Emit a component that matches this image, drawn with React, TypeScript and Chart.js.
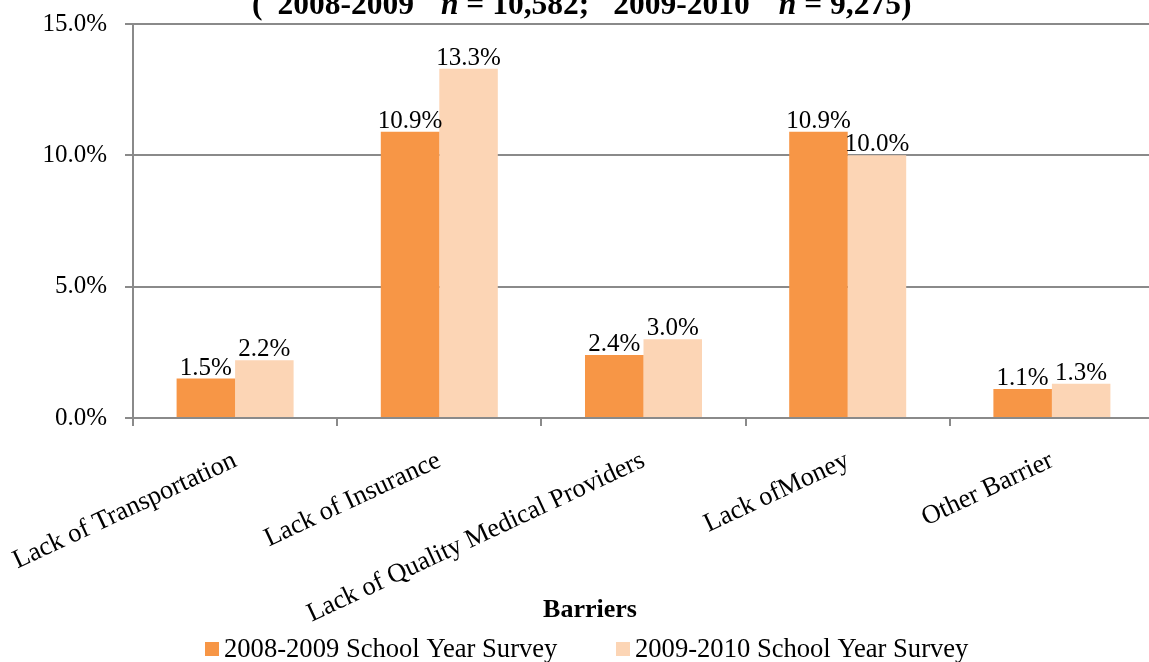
import React, { useEffect, useRef } from "react";
import { Chart, registerables } from "chart.js";

Chart.register(...registerables);

const categories = [
  "Lack of Transportation",
  "Lack of Insurance",
  "Lack of Quality Medical Providers",
  "Lack ofMoney",
  "Other Barrier",
];
const series2008 = [1.5, 10.9, 2.4, 10.9, 1.1];
const series2009 = [2.2, 13.3, 3.0, 10.0, 1.3];
const seriesNames = ["2008-2009 School Year Survey", "2009-2010 School Year Survey"];
const seriesColors = ["#F79646", "#FCD5B5"];
const yTickValues = [0, 5, 10, 15];
const axisTitle = "Barriers";
// title pieces: [text, italic, gapAfter]
const titleParts: [string, boolean, number][] = [
  ["(", false, 15],
  ["2008-2009", false, 27],
  ["n", true, 0],
  [" = 10,582;", false, 24],
  ["2009-2010", false, 29],
  ["n", true, 0],
  [" = 9,275)", false, 0],
];

const SERIF = '"Liberation Serif", "Times New Roman", serif';
const GRAY = "#8a8a8a";

const overlayPlugin = {
  id: "overlay",
  afterDraw(chart: any) {
    const ctx = chart.ctx;
    ctx.save();
    // data labels
    ctx.fillStyle = "#000";
    ctx.font = `25px ${SERIF}`;
    ctx.textAlign = "center";
    ctx.textBaseline = "alphabetic";
    chart.data.datasets.forEach((ds: any, di: number) => {
      const meta = chart.getDatasetMeta(di);
      meta.data.forEach((bar: any, i: number) => {
        const v = ds.data[i];
        ctx.fillText(v.toFixed(1) + "%", bar.x, bar.y - 4);
      });
    });
    // title (clipped at top)
    ctx.textAlign = "left";
    let x = 252;
    for (const [t, it, gap] of titleParts) {
      ctx.font = `${it ? "italic " : ""}bold 31.5px ${SERIF}`;
      ctx.fillText(t, x, 14);
      x += ctx.measureText(t).width + gap;
    }
    // axis title
    ctx.font = `bold 26px ${SERIF}`;
    ctx.textAlign = "center";
    ctx.fillText(axisTitle, 590, 617);
    // legend
    const legendX = [205, 616];
    ctx.textAlign = "left";
    ctx.font = `26.6px ${SERIF}`;
    seriesNames.forEach((name, i) => {
      ctx.fillStyle = seriesColors[i];
      ctx.fillRect(legendX[i], 642, 14, 14);
      ctx.fillStyle = "#000";
      ctx.fillText(name, legendX[i] + 19, 657);
    });
    ctx.restore();
  },
};

export default function App() {
  const ref = useRef<HTMLCanvasElement | null>(null);
  useEffect(() => {
    if (!ref.current) return;
    const chart = new Chart(ref.current, {
      type: "bar",
      data: {
        labels: categories,
        datasets: [
          {
            label: seriesNames[0],
            data: series2008,
            backgroundColor: seriesColors[0],
            borderWidth: 0,
            barPercentage: 1,
            categoryPercentage: 0.573,
          },
          {
            label: seriesNames[1],
            data: series2009,
            backgroundColor: seriesColors[1],
            borderWidth: 0,
            barPercentage: 1,
            categoryPercentage: 0.573,
          },
        ],
      },
      options: {
        responsive: false,
        animation: false,
        layout: { padding: { top: 24, right: 6, left: 0, bottom: 0 } },
        plugins: {
          legend: { display: false },
          title: { display: false },
          tooltip: { enabled: false },
        },
        scales: {
          x: {
            grid: {
              offset: true,
              drawOnChartArea: false,
              drawTicks: true,
              tickLength: 8,
              color: GRAY,
              lineWidth: 2,
            },
            border: { display: true, color: GRAY, width: 2 },
            ticks: {
              color: "#000",
              font: { family: SERIF, size: 26.5 },
              minRotation: 25,
              maxRotation: 25,
              padding: 19,
              autoSkip: false,
            },
            afterFit(scale: any) {
              scale.height = 244;
              scale.paddingLeft = 0;
              scale.paddingRight = 0;
            },
          },
          y: {
            min: 0,
            max: 15,
            afterBuildTicks(scale: any) {
              scale.ticks = yTickValues.map((v) => ({ value: v }));
            },
            grid: {
              color: GRAY,
              lineWidth: 2,
              drawTicks: true,
              tickLength: 8,
            },
            border: { display: true, color: GRAY, width: 2 },
            ticks: {
              color: "#000",
              font: { family: SERIF, size: 25 },
              padding: 18,
              callback: (v: any) => Number(v).toFixed(1) + "%",
            },
            afterFit(scale: any) {
              scale.width = 133;
              scale.paddingTop = 0;
              scale.paddingBottom = 0;
            },
          },
        },
      },
      plugins: [overlayPlugin],
    });
    return () => chart.destroy();
  }, []);
  return (
    <div
      style={{
        position: "absolute",
        left: 0,
        top: 0,
        width: 1149,
        height: 662,
        overflow: "hidden",
        background: "#fff",
      }}
    >
      <canvas ref={ref} width={1160} height={662} style={{ display: "block" }} />
    </div>
  );
}
